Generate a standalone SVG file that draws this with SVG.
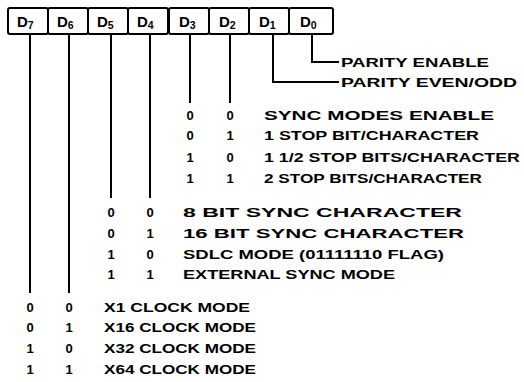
<svg xmlns="http://www.w3.org/2000/svg" width="524" height="382" viewBox="0 0 524 382">
<style>
.box{fill:#fff;stroke:#000;stroke-width:2;}
.lbl{font-family:"Liberation Sans",Arial,sans-serif;font-weight:bold;font-size:15px;fill:#000;}
.sub{font-size:10.5px;}
.t{font-family:"Liberation Sans",Arial,sans-serif;font-weight:bold;font-size:13px;fill:#000;}
.b{font-family:"Liberation Sans",Arial,sans-serif;font-weight:bold;font-size:13px;fill:#000;text-anchor:middle;}
.ln{fill:none;stroke:#000;stroke-width:2;}
</style>
<rect width="524" height="382" fill="#fff"/>
<g id="bit-D7"><rect class="box" x="8" y="8" width="40" height="26" rx="2"/><text class="lbl" x="17" y="27">D<tspan class="sub" dy="2">7</tspan></text></g>
<g id="bit-D6"><rect class="box" x="48" y="8" width="40" height="26" rx="2"/><text class="lbl" x="57" y="27">D<tspan class="sub" dy="2">6</tspan></text></g>
<g id="bit-D5"><rect class="box" x="88" y="8" width="40" height="26" rx="2"/><text class="lbl" x="97" y="27">D<tspan class="sub" dy="2">5</tspan></text></g>
<g id="bit-D4"><rect class="box" x="128" y="8" width="40" height="26" rx="2"/><text class="lbl" x="137" y="27">D<tspan class="sub" dy="2">4</tspan></text></g>
<g id="bit-D3"><rect class="box" x="169" y="8" width="40" height="26" rx="2"/><text class="lbl" x="179" y="27">D<tspan class="sub" dy="2">3</tspan></text></g>
<g id="bit-D2"><rect class="box" x="209" y="8" width="40" height="26" rx="2"/><text class="lbl" x="219" y="27">D<tspan class="sub" dy="2">2</tspan></text></g>
<g id="bit-D1"><rect class="box" x="249" y="8" width="40" height="26" rx="2"/><text class="lbl" x="259" y="27">D<tspan class="sub" dy="2">1</tspan></text></g>
<g id="bit-D0"><rect class="box" x="289" y="8" width="44" height="26" rx="2"/><text class="lbl" x="300" y="27">D<tspan class="sub" dy="2">0</tspan></text></g>

<g id="connectors">
<path class="ln" d="M312 34 V62 H339"/>
<path class="ln" d="M273 34 V82 H339"/>
<path class="ln" d="M190 34 V103"/>
<path class="ln" d="M230 34 V103"/>
<path class="ln" d="M111 34 V198"/>
<path class="ln" d="M150 34 V198"/>
<path class="ln" d="M30 34 V293"/>
<path class="ln" d="M69 34 V293"/>
</g>

<g id="parity-enable"><text class="t" x="341" y="67" textLength="148" lengthAdjust="spacingAndGlyphs">PARITY ENABLE</text></g>
<g id="parity-even-odd"><text class="t" x="341" y="87" textLength="176" lengthAdjust="spacingAndGlyphs">PARITY EVEN/ODD</text></g>

<g id="stop-bits">
<text class="b" x="190" y="120">0</text><text class="b" x="230" y="120">0</text>
<text class="t" x="264" y="120" textLength="230" lengthAdjust="spacingAndGlyphs">SYNC MODES ENABLE</text>
<text class="b" x="190" y="140">0</text><text class="b" x="230" y="140">1</text>
<text class="t" x="264" y="140" textLength="215" lengthAdjust="spacingAndGlyphs">1 STOP BIT/CHARACTER</text>
<text class="b" x="190" y="162">1</text><text class="b" x="230" y="162">0</text>
<text class="t" x="264" y="162" textLength="256" lengthAdjust="spacingAndGlyphs">1 1/2 STOP BITS/CHARACTER</text>
<text class="b" x="190" y="183">1</text><text class="b" x="230" y="183">1</text>
<text class="t" x="264" y="183" textLength="218" lengthAdjust="spacingAndGlyphs">2 STOP BITS/CHARACTER</text>
</g>

<g id="sync-modes">
<text class="b" x="111" y="217">0</text><text class="b" x="150" y="217">0</text>
<text class="t" x="183" y="217" textLength="279" lengthAdjust="spacingAndGlyphs">8 BIT SYNC CHARACTER</text>
<text class="b" x="111" y="238">0</text><text class="b" x="150" y="238">1</text>
<text class="t" x="183" y="238" textLength="281" lengthAdjust="spacingAndGlyphs">16 BIT SYNC CHARACTER</text>
<text class="b" x="111" y="259">1</text><text class="b" x="150" y="259">0</text>
<text class="t" x="183" y="259" textLength="261" lengthAdjust="spacingAndGlyphs">SDLC MODE (01111110 FLAG)</text>
<text class="b" x="111" y="279">1</text><text class="b" x="150" y="279">1</text>
<text class="t" x="183" y="279" textLength="212" lengthAdjust="spacingAndGlyphs">EXTERNAL SYNC MODE</text>
</g>

<g id="clock-modes">
<text class="b" x="30" y="312">0</text><text class="b" x="69" y="312">0</text>
<text class="t" x="104" y="312" textLength="146" lengthAdjust="spacingAndGlyphs">X1 CLOCK MODE</text>
<text class="b" x="30" y="332">0</text><text class="b" x="69" y="332">1</text>
<text class="t" x="104" y="332" textLength="152" lengthAdjust="spacingAndGlyphs">X16 CLOCK MODE</text>
<text class="b" x="30" y="353">1</text><text class="b" x="69" y="353">0</text>
<text class="t" x="104" y="353" textLength="152" lengthAdjust="spacingAndGlyphs">X32 CLOCK MODE</text>
<text class="b" x="30" y="374">1</text><text class="b" x="69" y="374">1</text>
<text class="t" x="104" y="374" textLength="152" lengthAdjust="spacingAndGlyphs">X64 CLOCK MODE</text>
</g>
</svg>
